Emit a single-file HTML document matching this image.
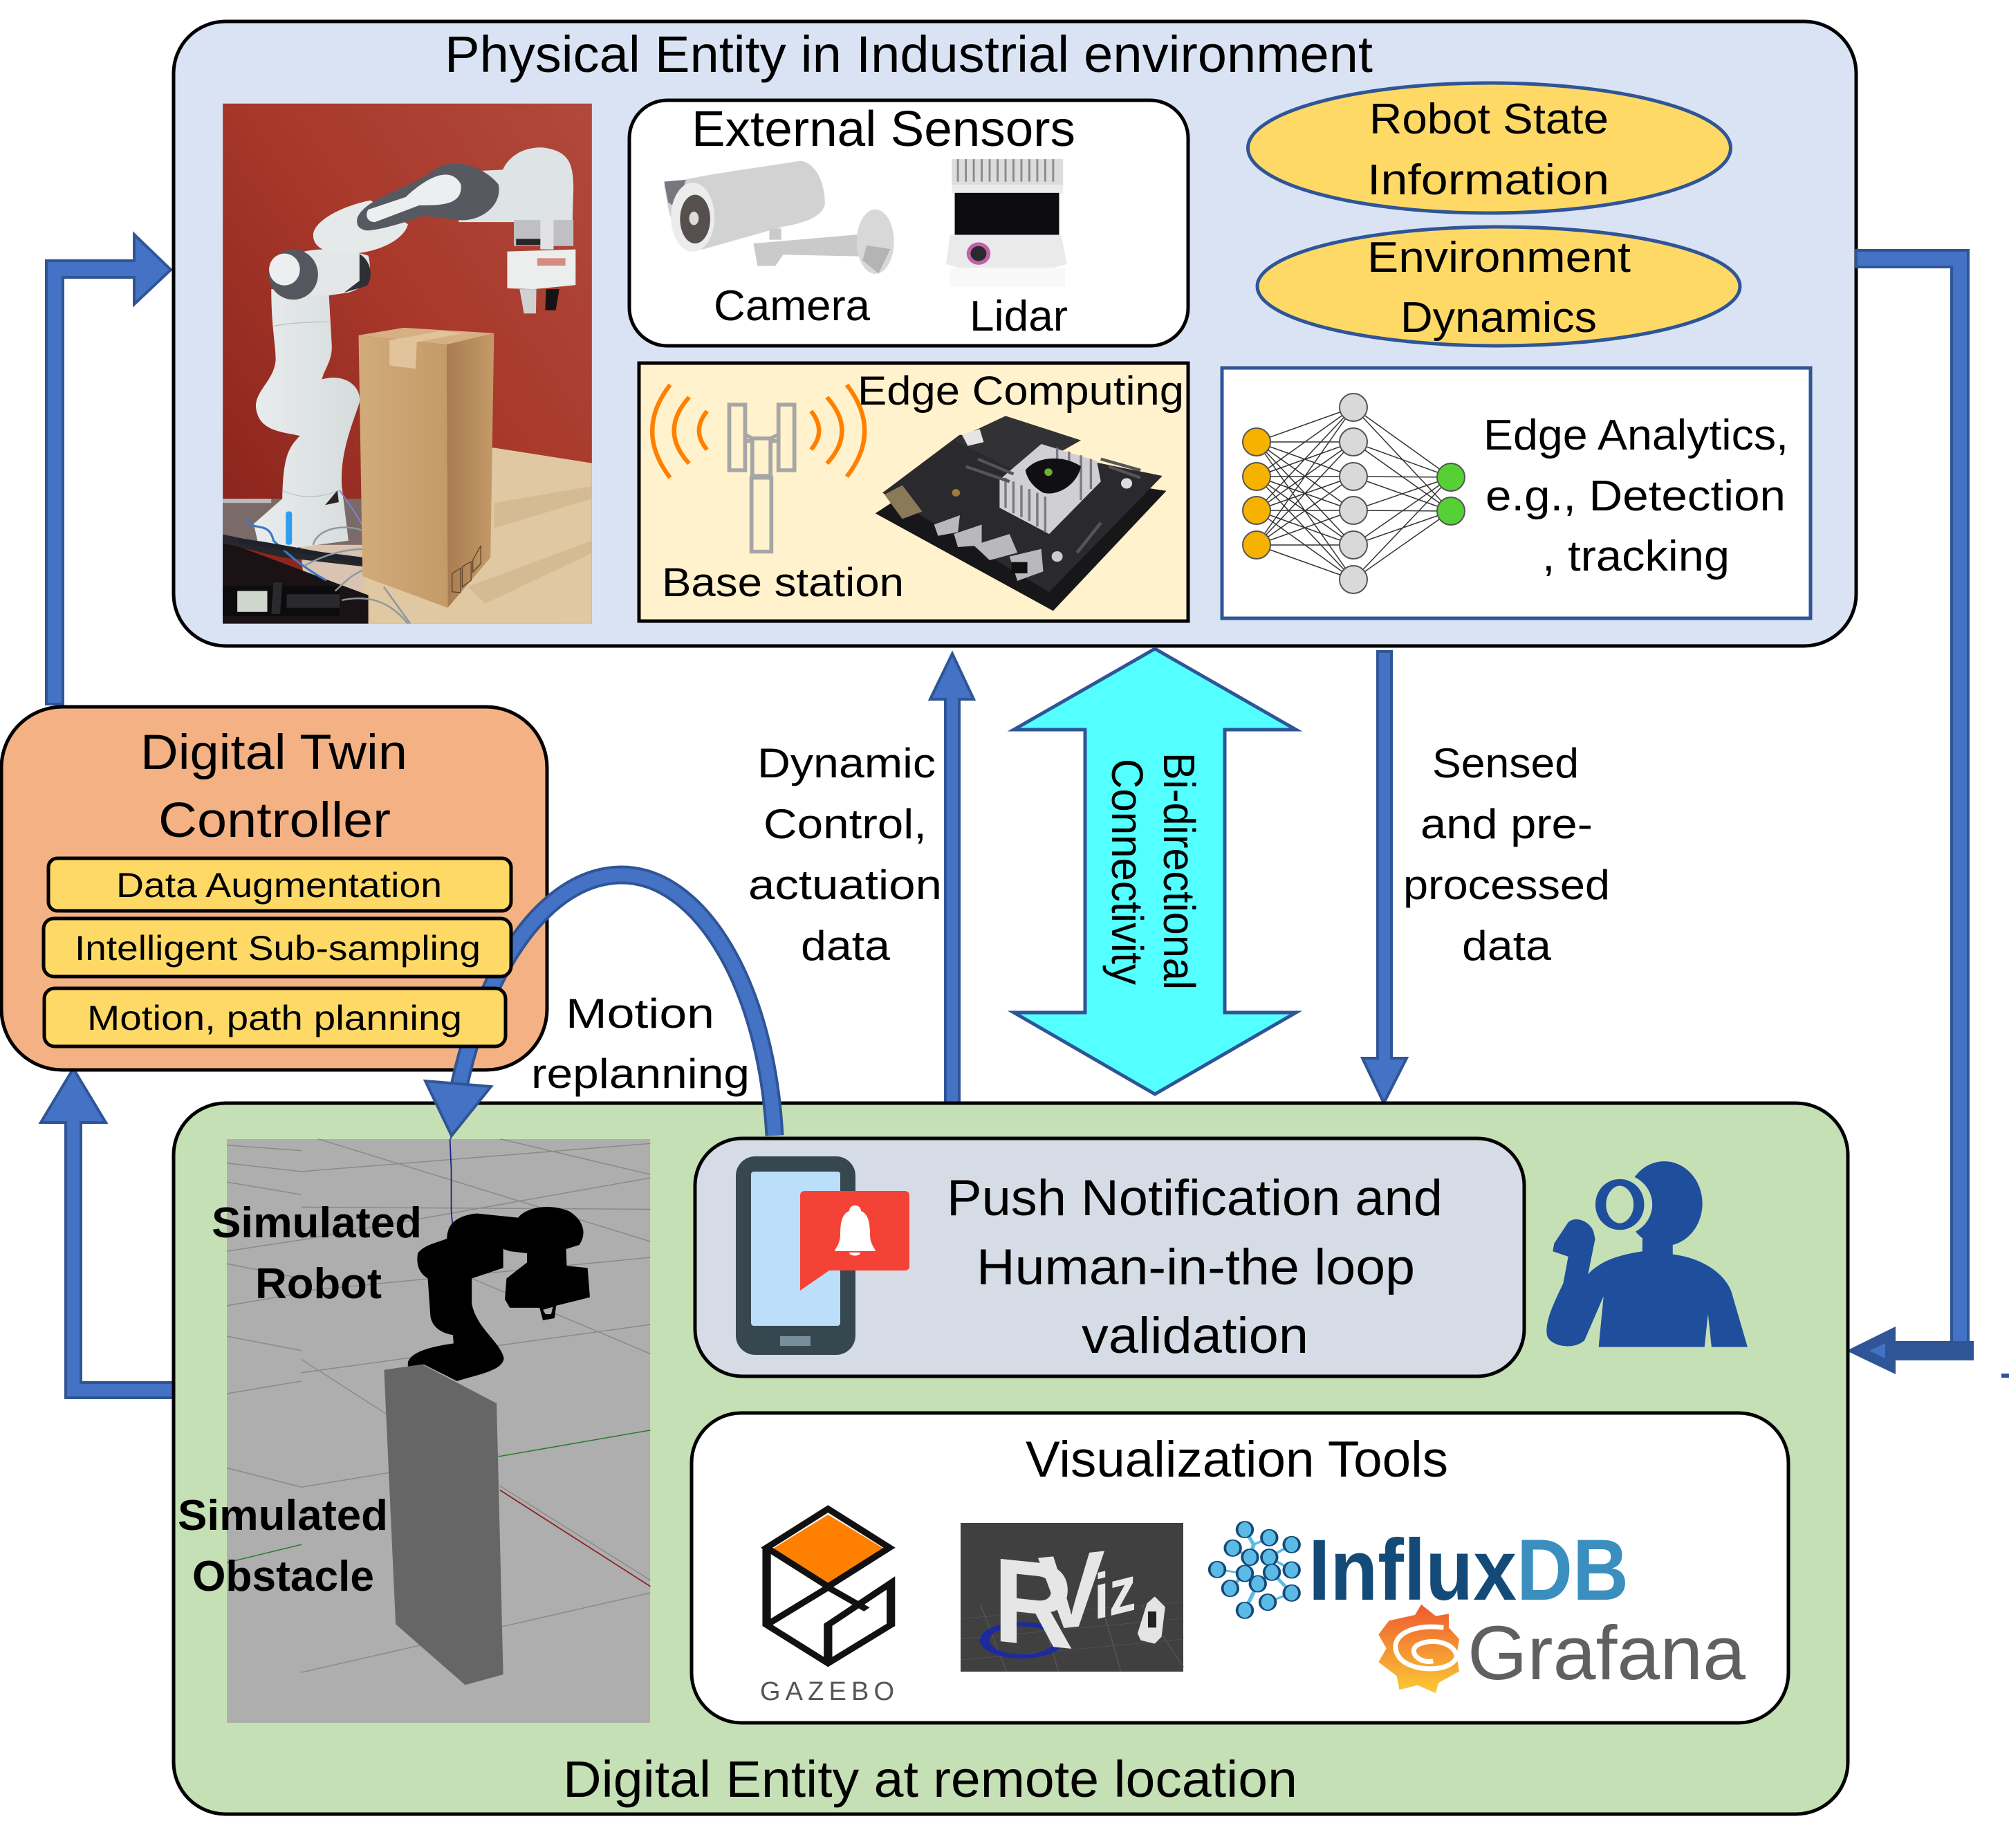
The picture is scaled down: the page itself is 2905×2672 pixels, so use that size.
<!DOCTYPE html>
<html><head><meta charset="utf-8"><style>html,body{margin:0;padding:0;background:#fff}svg{display:block}text{font-family:"Liberation Sans",sans-serif;fill:#000}</style></head><body>
<svg xmlns="http://www.w3.org/2000/svg" width="2905" height="2672" viewBox="0 0 2905 2672">
<defs>
<linearGradient id="wall" x1="1" y1="0" x2="0" y2="1"><stop offset="0" stop-color="#b04a3c"/><stop offset=".45" stop-color="#a8382a"/><stop offset="1" stop-color="#84201a"/></linearGradient>
<linearGradient id="boxf" x1="0" y1="0" x2="1" y2="0"><stop offset="0" stop-color="#d1ab7a"/><stop offset="1" stop-color="#c49a68"/></linearGradient>
<linearGradient id="boxr" x1="0" y1="0" x2="1" y2="0"><stop offset="0" stop-color="#a87c50"/><stop offset="1" stop-color="#c49a68"/></linearGradient>
<linearGradient id="graf" x1="0" y1="0" x2="0" y2="1"><stop offset="0" stop-color="#ee5a30"/><stop offset="1" stop-color="#fbca35"/></linearGradient>
<linearGradient id="rob" x1="0" y1="0" x2="1" y2="0"><stop offset="0" stop-color="#e8ecec"/><stop offset="1" stop-color="#d6dbdc"/></linearGradient>
<clipPath id="pc"><rect x="505" y="247" width="837" height="1241"/></clipPath>
<clipPath id="sc"><rect x="205" y="77" width="1280" height="1393"/></clipPath>
</defs>
<rect width="2905" height="2672" fill="#fff"/>

<!-- left upper arrow -->
<path d="M67 1018V377H194V339L247 390L194 440V401H91V1018Z" fill="#4472c4" stroke="#2f5597" stroke-width="4"/>

<!-- Physical box -->
<rect x="251" y="31" width="2433" height="903" rx="75" fill="#dae3f3" stroke="#000" stroke-width="5"/>
<text x="643" y="104" font-size="74" textLength="1342" lengthAdjust="spacingAndGlyphs">Physical Entity in Industrial environment</text>

<!-- photo -->
<g transform="scale(.6378,.606)"><g clip-path="url(#pc)">
<rect x="505" y="247" width="837" height="1241" fill="url(#wall)"/>
<path d="M820 1190L1118 1068L1342 1105V1488H820Z" fill="#dfc8a2"/>
<path d="M1120 1200L1342 1160V1190L1120 1260ZM1060 1400L1342 1290V1320L1100 1440Z" fill="#d5bb94"/>
<rect x="505" y="1190" width="320" height="110" fill="#7a6a68"/>
<rect x="505" y="1190" width="110" height="10" fill="#bbb"/>
<path d="M680 1300L825 1300V1488H700Z" fill="#d8c4b0"/>
<path d="M505 1290L835 1420V1488H505Z" fill="#1a1214"/>
<path d="M505 1275L640 1305L825 1330V1352L640 1330L505 1296Z" fill="#26262c"/>
<path d="M505 1398H770V1470H505Z" fill="#0c0c0e"/>
<rect x="538" y="1410" width="68" height="50" fill="#cfd6cc"/>
<path d="M620 1390L640 1390L635 1465L615 1465ZM650 1418H770V1450H650Z" fill="#2a2a2c"/>
<!-- robot -->
<path d="M575 1250L640 1190C642 1100 650 1070 680 1040C640 1030 585 1030 580 970C580 930 620 910 625 860C625 820 615 780 615 690L745 690L752 820C755 860 735 880 730 905C780 890 820 920 815 960C800 1010 770 1080 775 1160L790 1290L650 1310L585 1295Z" fill="url(#rob)"/>
<path d="M640 1170C680 1190 720 1190 770 1170M620 778C660 770 710 768 745 768" fill="none" stroke="#b9bfc0" stroke-width="2"/>
<rect x="648" y="1220" width="14" height="80" rx="6" fill="#2f9cf0"/>
<path d="M737 1205L765 1170L768 1198Z" fill="#2a2422"/>
<path d="M560 1240C570 1270 610 1240 620 1290C640 1310 680 1350 740 1385" fill="none" stroke="#3a78c8" stroke-width="5"/>
<path d="M770 1170C790 1200 810 1230 825 1260" fill="none" stroke="#7b85d8" stroke-width="3"/>
<path d="M540 1290C620 1300 700 1320 825 1340" fill="none" stroke="#20222a" stroke-width="12"/>
<path d="M710 1300C720 1260 780 1250 820 1265M690 1350C740 1320 790 1310 825 1310M760 1410C790 1380 800 1370 825 1360M775 1432C830 1420 880 1430 925 1488M870 1400L930 1488" fill="none" stroke="#8b98a0" stroke-width="4"/>
<path d="M690 600C730 590 790 595 835 610C845 650 835 685 790 698L745 705L700 705Z" fill="#e4e7e8"/>
<path d="M815 606C840 620 848 660 832 682L780 698L815 670Z" fill="#2e3036"/>
<ellipse cx="665" cy="655" rx="56" ry="60" fill="#54585e"/>
<ellipse cx="645" cy="643" rx="35" ry="38" fill="#eceeef"/>
<path d="M710 560C712 525 780 490 840 478L925 535C915 575 850 605 790 605C745 605 710 595 710 560Z" fill="#e6e9ea"/>
<path d="M1040 410L1140 405C1150 380 1180 350 1230 352C1290 360 1300 390 1300 450L1298 530L1165 530L1040 530Z" fill="#dee3e6"/>
<path d="M810 520C830 470 930 450 985 405C1030 370 1100 400 1130 440C1140 490 1090 530 1040 525L960 515C920 530 860 550 830 550C810 545 808 535 810 520Z" fill="#56595f"/>
<path d="M835 500L920 470C960 430 1020 390 1045 440C1050 490 1000 490 950 490L850 530C830 530 828 510 835 500Z" fill="#eceeef"/>
<rect x="1165" y="525" width="135" height="62" fill="#bfc0c4"/>
<rect x="1225" y="525" width="30" height="70" fill="#e2e2e4"/>
<path d="M1170 570H1225V585H1170Z" fill="#26262a"/>
<path d="M1150 600L1305 595L1305 680L1210 690L1150 688Z" fill="#eceeee"/>
<rect x="1218" y="616" width="64" height="18" fill="#d48c82"/>
<path d="M1178 690H1216L1215 748H1188Z" fill="#d0d2d2"/>
<path d="M1238 690H1268L1260 740H1236Z" fill="#141416"/>
<!-- box -->
<path d="M813 800L1013 822L1015 1450L822 1375Z" fill="url(#boxf)"/>
<path d="M1013 822L1120 795L1112 1330L1015 1450Z" fill="url(#boxr)"/>
<path d="M813 800L915 782L1120 795L1013 822Z" fill="#d6b084"/>
<path d="M883 812L1000 790L1050 795L945 816L942 880L883 872Z" fill="#e2c49c"/>
<g fill="none" stroke="#5a4028" stroke-width="2"><path d="M1025 1368L1044 1356V1414L1025 1412ZM1048 1352L1068 1340V1385L1048 1400ZM1072 1336L1090 1302V1345L1072 1365Z"/></g>
</g></g>

<!-- External sensors -->
<rect x="910" y="145" width="808" height="355" rx="55" fill="#fff" stroke="#000" stroke-width="5"/>
<text x="1000" y="211" font-size="72" textLength="555" lengthAdjust="spacingAndGlyphs">External Sensors</text>
<text x="1032" y="463" font-size="62" textLength="226" lengthAdjust="spacingAndGlyphs">Camera</text>
<text x="1402" y="478" font-size="62" textLength="142" lengthAdjust="spacingAndGlyphs">Lidar</text>
<g transform="translate(880,100) scale(.574,.542)">
<path d="M140 310C200 285 400 260 480 245C520 245 545 300 545 360C540 390 500 410 440 420L240 480C190 490 160 420 150 370Z" fill="#d2d2d2"/>
<path d="M140 300L195 295L170 370L150 355Z" fill="#77777f"/>
<ellipse cx="212" cy="395" rx="55" ry="92" fill="#ececec"/>
<ellipse cx="218" cy="400" rx="38" ry="65" fill="#55504e"/>
<ellipse cx="215" cy="398" rx="12" ry="18" fill="#dcdcdc"/>
<path d="M405 425H435V455H405ZM365 465L640 440L660 500L440 495L420 525H375Z" fill="#cacaca"/>
<ellipse cx="672" cy="460" rx="47" ry="86" fill="#d8d8d8"/>
<path d="M650 470L710 480L680 545L640 510Z" fill="#b4b4b4"/>
<rect x="865" y="240" width="280" height="70" fill="#dcdcdc"/>
<path d="M880 240V300M900 240V300M920 240V300M940 240V300M960 240V300M980 240V300M1000 240V300M1020 240V300M1040 240V300M1060 240V300M1080 240V300M1100 240V300M1120 240V300" stroke="#8a8a8e" stroke-width="5"/>
<rect x="865" y="308" width="280" height="24" fill="#ececec"/>
<rect x="872" y="330" width="263" height="112" fill="#0c0c10"/>
<path d="M860 442H1140L1155 520L1120 530H885L850 520Z" fill="#eaeaea"/>
<circle cx="932" cy="492" r="30" fill="#c060a8"/><circle cx="932" cy="492" r="20" fill="#2a2a2e"/>
<rect x="860" y="530" width="290" height="50" fill="#f8f8f8"/>
</g>

<!-- Edge -->
<rect x="924" y="525" width="794" height="373" fill="#fff2cc" stroke="#000" stroke-width="5"/>
<g transform="translate(880,100) scale(.574,.542)">
<g fill="none" stroke="#ff8000" stroke-width="11"><path d="M155 842Q65 965 155 1090M203 875Q127 965 203 1052M248 912Q208 965 248 1015M600 842Q690 965 600 1087M550 875Q626 965 550 1052M510 912Q550 965 510 1015"/></g>
<g fill="none" stroke="#a6a6a6" stroke-width="10"><rect x="304" y="895" width="40" height="175"/><rect x="428" y="895" width="40" height="175"/><rect x="362" y="985" width="46" height="100"/><rect x="360" y="1090" width="50" height="197"/><path d="M344 975L362 985M344 992H362M428 975L408 985M428 992H408"/></g>
<path d="M672 1185L880 1040L1405 1125L1120 1445Z" fill="#17171a"/>
<path d="M690 1130L885 975L1395 1085L1110 1395Z" fill="#2a2a2e"/>
<path d="M870 990L1000 925L1190 990L1040 1080Z" fill="#323234"/>
<path d="M890 975L935 960L945 995L905 1005Z" fill="#e4e4e4"/>
<path d="M1090 1000L1230 1045L1240 1100L1110 1240L985 1170L985 1095Z" fill="#d0d0d4"/>
<path d="M1000 1090V1170M1020 1100V1185M1040 1110V1195M1060 1120V1205M1080 1130V1220M1100 1140V1235M1130 1010V1050M1160 1020V1060M1190 1030V1150M1215 1040V1120" stroke="#7a7a80" stroke-width="6"/>
<path d="M1050 1070C1080 1030 1150 1030 1190 1060C1180 1110 1130 1140 1095 1130C1070 1115 1055 1095 1050 1070Z" fill="#101012"/>
<circle cx="1108" cy="1075" r="10" fill="#70b030"/>
<path d="M820 1215L885 1190L880 1235L830 1245ZM870 1240L940 1215L940 1270L880 1275ZM920 1270L1010 1240L1030 1290L960 1310ZM1010 1300L1090 1280L1095 1340L1030 1365Z" fill="#b9b9bd"/>
<rect x="1015" y="1315" width="40" height="30" fill="#111"/>
<path d="M695 1135L740 1110L790 1180L740 1200Z" fill="#8a7a5a"/>
<path d="M900 1060L1010 1100M930 1040L1020 1080M1240 1040L1340 1070M1260 1060L1340 1090M1180 1290L1240 1210" stroke="#555" stroke-width="8"/>
<circle cx="1305" cy="1105" r="14" fill="#ddd"/><circle cx="875" cy="1130" r="10" fill="#a07a3a"/><circle cx="1130" cy="1300" r="14" fill="#ccc"/>
</g>
<text x="1240" y="585" font-size="58" textLength="472" lengthAdjust="spacingAndGlyphs">Edge Computing</text>
<text x="957" y="862" font-size="58" textLength="350" lengthAdjust="spacingAndGlyphs">Base station</text>

<!-- ellipses -->
<ellipse cx="2153.5" cy="214" rx="349" ry="94" fill="#ffd966" stroke="#2f5597" stroke-width="5"/>
<ellipse cx="2167" cy="414" rx="349" ry="86" fill="#ffd966" stroke="#2f5597" stroke-width="5"/>
<text x="1980" y="193" font-size="62" textLength="346" lengthAdjust="spacingAndGlyphs">Robot State</text>
<text x="1977" y="281" font-size="62" textLength="350" lengthAdjust="spacingAndGlyphs">Information</text>
<text x="1977" y="393" font-size="62" textLength="381" lengthAdjust="spacingAndGlyphs">Environment</text>
<text x="2025" y="480" font-size="62" textLength="284" lengthAdjust="spacingAndGlyphs">Dynamics</text>

<!-- NN -->
<rect x="1767" y="532" width="851" height="362" fill="#fff" stroke="#2f5597" stroke-width="5"/>
<path d="M1817 639L1957 589M1817 639L1957 639M1817 639L1957 689M1817 639L1957 738M1817 639L1957 788M1817 639L1957 838M1817 689L1957 589M1817 689L1957 639M1817 689L1957 689M1817 689L1957 738M1817 689L1957 788M1817 689L1957 838M1817 738L1957 589M1817 738L1957 639M1817 738L1957 689M1817 738L1957 738M1817 738L1957 788M1817 738L1957 838M1817 788L1957 589M1817 788L1957 639M1817 788L1957 689M1817 788L1957 738M1817 788L1957 788M1817 788L1957 838M1957 589L2098 690M1957 589L2098 739M1957 639L2098 690M1957 639L2098 739M1957 689L2098 690M1957 689L2098 739M1957 738L2098 690M1957 738L2098 739M1957 788L2098 690M1957 788L2098 739M1957 838L2098 690M1957 838L2098 739" stroke="#333" stroke-width="1.5" fill="none"/>
<g stroke="#555" stroke-width="2">
<g fill="#f5b200"><circle cx="1817" cy="639" r="20"/><circle cx="1817" cy="689" r="20"/><circle cx="1817" cy="738" r="20"/><circle cx="1817" cy="788" r="20"/></g>
<g fill="#d9d9d9"><circle cx="1957" cy="589" r="20"/><circle cx="1957" cy="639" r="20"/><circle cx="1957" cy="689" r="20"/><circle cx="1957" cy="738" r="20"/><circle cx="1957" cy="788" r="20"/><circle cx="1957" cy="838" r="20"/></g>
<g fill="#56d135"><circle cx="2098" cy="690" r="20"/><circle cx="2098" cy="739" r="20"/></g>
</g>
<text x="2145" y="650" font-size="62" textLength="441" lengthAdjust="spacingAndGlyphs">Edge Analytics,</text>
<text x="2148" y="738" font-size="62" textLength="434" lengthAdjust="spacingAndGlyphs">e.g., Detection</text>
<text x="2230" y="825" font-size="62" textLength="271" lengthAdjust="spacingAndGlyphs">, tracking</text>

<!-- right arrow -->
<path d="M2684 362H2846V1945H2822V386H2684Z" fill="#4472c4" stroke="#2f5597" stroke-width="4"/>
<path d="M2670 1953L2741 1918V1939H2854V1967H2741V1987Z" fill="#2f5597"/>
<path d="M2703 1953L2726 1942V1964Z" fill="#4472c4"/>
<rect x="2894" y="1986" width="11" height="6" fill="#2f5597"/>

<!-- middle arrows -->
<path d="M1367 1599V1011H1345L1377 945L1408 1011H1387V1599Z" fill="#4472c4" stroke="#2f5597" stroke-width="4"/>
<path d="M1670 938L1874 1055H1771V1464H1874L1670 1582L1466 1464H1569V1055H1466Z" fill="#53ffff" stroke="#2f5597" stroke-width="5" stroke-linejoin="miter"/>
<path d="M1992 942H2012V1530H2034L2001 1595L1970 1530H1992Z" fill="#4472c4" stroke="#2f5597" stroke-width="4"/>
<text transform="translate(1683,1088) rotate(90)" font-size="64" textLength="343" lengthAdjust="spacingAndGlyphs">Bi-directional</text>
<text transform="translate(1608,1097) rotate(90)" font-size="64" textLength="327" lengthAdjust="spacingAndGlyphs">Connectivity</text>
<g font-size="60">
<text x="1095" y="1124" textLength="258" lengthAdjust="spacingAndGlyphs">Dynamic</text>
<text x="1104" y="1212" textLength="236" lengthAdjust="spacingAndGlyphs">Control,</text>
<text x="1082" y="1300" textLength="280" lengthAdjust="spacingAndGlyphs">actuation</text>
<text x="1158" y="1388" textLength="129" lengthAdjust="spacingAndGlyphs">data</text>
<text x="2071" y="1124" textLength="212" lengthAdjust="spacingAndGlyphs">Sensed</text>
<text x="2054" y="1212" textLength="249" lengthAdjust="spacingAndGlyphs">and pre-</text>
<text x="2029" y="1300" textLength="299" lengthAdjust="spacingAndGlyphs">processed</text>
<text x="2114" y="1388" textLength="129" lengthAdjust="spacingAndGlyphs">data</text>
<text x="818" y="1486" textLength="215" lengthAdjust="spacingAndGlyphs">Motion</text>
<text x="768" y="1573" textLength="316" lengthAdjust="spacingAndGlyphs">replanning</text>
</g>

<!-- lower left arrow -->
<path d="M95 2021V1623H59L106 1545L153 1623H117V1999H251V2021Z" fill="#4472c4" stroke="#2f5597" stroke-width="4"/>

<!-- Green box -->
<rect x="251" y="1595" width="2421" height="1028" rx="75" fill="#c5e0b4" stroke="#000" stroke-width="5"/>
<text x="814" y="2598" font-size="74" textLength="1062" lengthAdjust="spacingAndGlyphs">Digital Entity at remote location</text>

<!-- Sim -->
<rect x="328" y="1647" width="612" height="844" fill="#aeaeae"/>
<g transform="translate(230,1600) scale(.4785,.606)"><g clip-path="url(#sc)">
<g fill="none" stroke="#8a8a8a" stroke-width="2.5">
<path d="M205 92L430 105M205 135L430 155M205 180L430 210M205 345L430 318M205 375L430 410M205 475L430 445M205 548L430 582M205 685L430 655M205 862L430 908M430 155L1485 88M430 240L1485 245M430 318L1485 170M430 440L1485 360M430 635L1485 520M430 908L1030 830M430 603L690 735M480 77L1485 322M1030 77L1485 162M945 410L1485 590M430 1350L1485 1160M1030 905L1485 1130"/>
</g>
<path d="M205 1088L430 1045M1025 835L1485 772" stroke="#2a7a2a" stroke-width="2.5" fill="none"/>
<path d="M1030 915L1485 1145" stroke="#8a2020" stroke-width="3" fill="none"/>
<path d="M879 77L883 150V250L888 290M897 545V570" stroke="#1a1a80" stroke-width="3.5" fill="none"/>
<path d="M752 610C760 590 800 575 890 565L888 545C850 540 825 525 820 500L812 410C790 400 775 380 782 350C800 330 840 325 870 315C870 280 900 260 960 255L1085 265C1110 240 1180 230 1240 250C1280 270 1295 300 1270 330L1230 340L1232 380L1295 385L1302 455L1200 475L1195 505L1160 510L1150 480L1060 480L1045 460L1050 410L1112 372L1112 350L1060 345L1040 340L1040 385L945 410L945 470C960 530 1030 560 1042 600C1040 630 960 640 900 655L800 615L752 620Z" fill="#000"/>
<path d="M1160 485L1190 478L1185 495H1168Z" fill="#aeaeae"/>
<path d="M680 628L795 615L1020 708L1040 1355L925 1380L715 1235Z" fill="#666"/>
</g></g>
<g font-weight="bold" font-size="62">
<text x="306" y="1789" font-weight="bold" textLength="304" lengthAdjust="spacingAndGlyphs">Simulated</text>
<text x="369" y="1877" font-weight="bold" textLength="183" lengthAdjust="spacingAndGlyphs">Robot</text>
<text x="257" y="2212" font-weight="bold" textLength="304" lengthAdjust="spacingAndGlyphs">Simulated</text>
<text x="278" y="2300" font-weight="bold" textLength="263" lengthAdjust="spacingAndGlyphs">Obstacle</text>
</g>

<!-- DT box -->
<rect x="2" y="1022" width="789" height="525" rx="88" fill="#f4b183" stroke="#000" stroke-width="5"/>
<text x="203" y="1112" font-size="71" textLength="386" lengthAdjust="spacingAndGlyphs">Digital Twin</text>
<text x="229" y="1210" font-size="71" textLength="336" lengthAdjust="spacingAndGlyphs">Controller</text>

<!-- curve -->
<path d="M1120 1642C1108 1420 1010 1265 899 1265C790 1265 700 1400 664 1570" fill="none" stroke="#2f5597" stroke-width="27"/>
<path d="M1120 1642C1108 1420 1010 1265 899 1265C790 1265 700 1400 664 1570" fill="none" stroke="#4472c4" stroke-width="19"/>
<path d="M615 1563L710 1571L653 1642Z" fill="#4472c4" stroke="#2f5597" stroke-width="4"/>
<path d="M652 1642V1647" stroke="#2f5597" stroke-width="2"/>

<!-- yellow boxes -->
<rect x="70" y="1241" width="669" height="76" rx="13" fill="#ffd966" stroke="#000" stroke-width="5"/>
<rect x="63" y="1328" width="676" height="84" rx="15" fill="#ffd966" stroke="#000" stroke-width="5"/>
<rect x="64" y="1429" width="667" height="84" rx="15" fill="#ffd966" stroke="#000" stroke-width="5"/>
<g font-size="50">
<text x="168" y="1297" textLength="471" lengthAdjust="spacingAndGlyphs">Data Augmentation</text>
<text x="108" y="1388" textLength="587" lengthAdjust="spacingAndGlyphs">Intelligent Sub-sampling</text>
<text x="126" y="1489" textLength="542" lengthAdjust="spacingAndGlyphs">Motion, path planning</text>
</g>

<!-- Phone box -->
<rect x="1005" y="1646" width="1199" height="344" rx="68" fill="#d6dce5" stroke="#000" stroke-width="5"/>
<rect x="1064" y="1672" width="173" height="287" rx="28" fill="#37474f"/>
<rect x="1086" y="1694" width="129" height="223" rx="4" fill="#bbdefb"/>
<rect x="1128" y="1932" width="44" height="14" fill="#78909c"/>
<path d="M1164 1722H1308Q1315 1722 1315 1729V1830Q1315 1837 1308 1837H1199L1157 1866V1729Q1157 1722 1164 1722Z" fill="#f44336"/>
<path d="M1236 1743C1243 1743 1245 1748 1245 1751C1256 1755 1258 1770 1258 1785C1258 1798 1264 1803 1266 1809H1207C1209 1803 1215 1798 1215 1785C1215 1770 1217 1755 1228 1751C1228 1748 1230 1743 1236 1743ZM1228 1811H1244C1244 1817 1228 1817 1228 1811Z" fill="#fff"/>
<text x="1369" y="1757" font-size="73" textLength="717" lengthAdjust="spacingAndGlyphs">Push Notification and</text>
<text x="1412" y="1857" font-size="73" textLength="634" lengthAdjust="spacingAndGlyphs">Human-in-the loop</text>
<text x="1564" y="1956" font-size="73" textLength="328" lengthAdjust="spacingAndGlyphs">validation</text>

<!-- Person -->
<g transform="translate(980,1600) scale(1.0204,.6378)" fill="#1f4e9c">
<ellipse cx="1398" cy="220" rx="54" ry="96"/>
<path d="M1367 300H1410V335C1460 345 1490 390 1495 430L1516 545H1465L1460 470L1455 545H1305L1312 430L1285 530C1270 552 1238 545 1232 520C1228 490 1240 450 1255 400L1262 340L1290 380C1310 345 1340 335 1367 328Z"/>
<ellipse cx="1335" cy="222" rx="46" ry="70" fill="#c5e0b4"/>
<ellipse cx="1335" cy="222" rx="27" ry="50" fill="#c5e0b4" stroke="#1f4e9c" stroke-width="15"/>
<path d="M1262 262C1275 245 1295 265 1298 285L1300 300L1290 380L1255 400L1262 340L1240 328L1242 310Z"/>
</g>

<!-- Vis box -->
<rect x="1000" y="2043" width="1586" height="448" rx="72" fill="#fff" stroke="#000" stroke-width="5"/>
<text x="1483" y="2135" font-size="73" textLength="611" lengthAdjust="spacingAndGlyphs">Visualization Tools</text>

<!-- Gazebo -->
<g transform="translate(980,1600) scale(1.0204,.6378)">
<path d="M213 925L292 1002L213 1080L135 1002Z" fill="#ff8000"/>
<path d="M213 912L300 1000L213 1088L126 1000Z" fill="none" stroke="#111" stroke-width="12"/>
<path d="M126 1000V1175L213 1262L302 1175V1080L213 1175V1262M126 1175L213 1090L268 1140" fill="none" stroke="#111" stroke-width="12"/>
</g>
<text x="1099" y="2458" font-size="38" style="fill:#555" textLength="194" lengthAdjust="spacing">GAZEBO</text>

<!-- RViz -->
<rect x="1389" y="2202" width="322" height="215" fill="#404040"/>
<g transform="translate(1380,2180) scale(.7526,.3333)">
<g stroke="#555" stroke-width="2" fill="none"><path d="M12 480L440 410M12 570L440 480M12 660L440 570M100 710L50 420M200 710L160 400M320 710L280 400M440 690L360 420"/></g>
<ellipse cx="130" cy="575" rx="72" ry="70" fill="none" stroke="#1c2aa0" stroke-width="18"/>
<path d="M352 545L370 415L385 385L405 430L398 560L385 590L358 575Z" fill="#e4e4e4"/>
<rect x="372" y="450" width="16" height="70" fill="#222"/>
</g>
<text transform="translate(1436,2372) skewY(6) scale(.95,1.02)" font-size="170" font-weight="bold" style="fill:#e6e6e6">R</text>
<text transform="translate(1500,2358) skewY(-6) scale(.98,1.02)" font-size="150" font-weight="bold" style="fill:#e6e6e6">V</text>
<text transform="translate(1582,2342) skewY(-14) scale(.85,1)" font-size="92" font-weight="bold" style="fill:#e8e8e8">iz</text>

<!-- Influx -->
<g transform="translate(1380,2180) scale(.7526,.3333)">
<path d="M558 95L575 160L605 130M575 160L568 215L535 175M568 215L558 285L505 268M605 215L648 160M605 215L648 270M558 285L530 350M558 285L583 330L558 445M610 280L648 370L602 410M610 280L583 330" stroke="#5cbbe6" stroke-width="8" fill="none"/>
<g fill="#5cbbe6" stroke="#134a78" stroke-width="5">
<ellipse cx="558" cy="95" rx="15" ry="35"/><ellipse cx="605" cy="130" rx="15" ry="35"/><ellipse cx="648" cy="160" rx="15" ry="35"/><ellipse cx="535" cy="175" rx="15" ry="35"/><ellipse cx="568" cy="215" rx="15" ry="35"/><ellipse cx="605" cy="215" rx="15" ry="35"/><ellipse cx="648" cy="270" rx="15" ry="35"/><ellipse cx="505" cy="268" rx="15" ry="35"/><ellipse cx="558" cy="285" rx="15" ry="35"/><ellipse cx="610" cy="280" rx="15" ry="35"/><ellipse cx="583" cy="330" rx="15" ry="35"/><ellipse cx="530" cy="350" rx="15" ry="35"/><ellipse cx="648" cy="370" rx="15" ry="35"/><ellipse cx="602" cy="410" rx="15" ry="35"/><ellipse cx="558" cy="445" rx="15" ry="35"/>
</g>
<!-- Grafana icon -->
<path d="M897 420L925 470L950 460L950 520L970 570L965 640L970 710L930 760L925 805L890 770L855 790L850 730L815 670L830 610L815 550L835 490L885 465Z" fill="url(#graf)"/>
<path d="M940 520C870 500 830 570 855 650C875 710 950 720 965 650C965 590 920 560 890 595C870 625 895 680 920 665" fill="none" stroke="#fff" stroke-width="7" vector-effect="non-scaling-stroke"/>
</g>
<text x="1892" y="2313" font-size="125" font-weight="bold" style="fill:#134a78" textLength="301" lengthAdjust="spacingAndGlyphs">Influx</text>
<text x="2193" y="2313" font-size="125" font-weight="bold" style="fill:#3a8fbf" textLength="162" lengthAdjust="spacingAndGlyphs">DB</text>
<text x="2122" y="2428" font-size="110" style="fill:#5e6062" textLength="402" lengthAdjust="spacingAndGlyphs">Grafana</text>
</svg>
</body></html>
